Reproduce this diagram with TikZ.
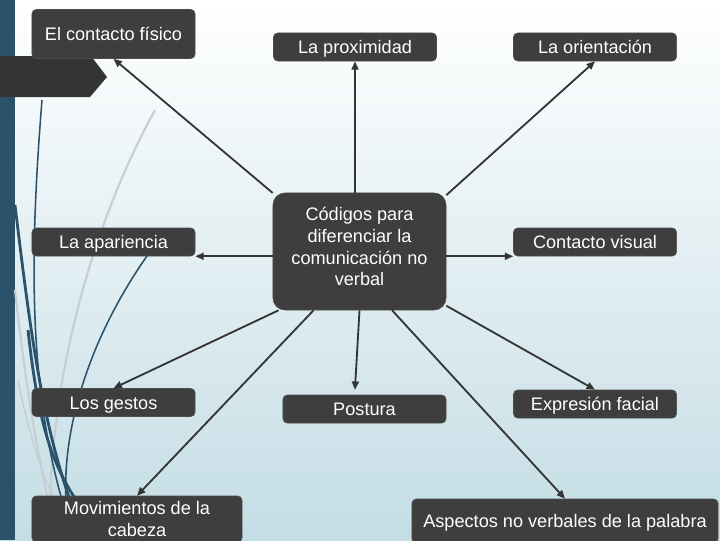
\documentclass[tikz,border=0pt]{standalone}
\usepackage{fontspec}
\setmainfont{Liberation Sans}
\usetikzlibrary{arrows.meta}
\definecolor{boxgray}{RGB}{62,62,62}
\definecolor{tabgray}{RGB}{52,52,52}
\definecolor{barblue}{RGB}{42,82,107}
\definecolor{bgmid}{RGB}{229,239,243}
\definecolor{bgblue}{RGB}{196,221,229}
\definecolor{decgray}{RGB}{196,206,211}

\begin{document}
\begin{tikzpicture}[x=0.025cm,y=-0.025cm,
    caja/.style={fill=boxgray,draw=gray!60!black,line width=0.4pt,rounded corners=3pt,
        text=white,inner sep=0pt,minimum width=4.075cm,minimum height=0.7cm,
        font=\fontsize{12.9}{15.4}\selectfont,align=center},
    linea/.style={caja,text height=9.4pt,text depth=0pt},
    flecha/.style={-{Triangle[length=6pt,width=5pt]},line width=1.3pt,draw=tabgray}]
    \useasboundingbox (0,0) rectangle (720,540);
    \shade[top color=white,middle color=bgmid,bottom color=bgblue] (0,0) rectangle (720,540);
    \fill[barblue] (0,0) rectangle (15,540);
    \fill[tabgray] (0,56) -- (91,56) -- (107,77) -- (90,97) -- (0,97) -- cycle;
    % curvas de adorno
    \draw[decgray,line width=1.5pt] (155,110) .. controls (100,210) and (55,350) .. (50,500);
    \draw[decgray,line width=1.5pt] (15,290) .. controls (25,380) and (35,440) .. (48,500);
    \draw[decgray,line width=1pt] (18,380) .. controls (28,430) and (40,470) .. (55,500);
    \draw[barblue,line width=1.1pt] (42,100) .. controls (30,250) and (28,380) .. (62,500);
    \draw[barblue,line width=2pt] (15,205) .. controls (30,330) and (42,420) .. (70,500);
    \draw[barblue,line width=2pt] (28,330) .. controls (38,420) and (50,460) .. (76,500);
    \draw[barblue,line width=1.1pt] (147,256) .. controls (95,330) and (62,420) .. (66,500);
    % nodos
    \node[caja,minimum width=4.325cm,minimum height=2.925cm,rounded corners=8.5pt,text depth=7pt] (codigos) at (359.5,251.5)
        {Códigos para\\diferenciar la\\comunicación no\\verbal};
    \node[linea,minimum height=1.225cm] (fisico) at (113.5,34) {El contacto físico};
    \node[linea] (proximidad) at (355,47) {La proximidad};
    \node[linea] (orientacion) at (595,47) {La orientación};
    \node[linea] (apariencia) at (113.5,242) {La apariencia};
    \node[linea] (visual) at (595,242) {Contacto visual};
    \node[linea] (gestos) at (113.5,402.5) {Los gestos};
    \node[linea] (postura) at (364.5,409) {Postura};
    \node[linea] (expresion) at (595,404) {Expresión facial};
    \node[caja,minimum width=5.25cm,minimum height=1.15cm] (cabeza) at (137,519) {Movimientos de la\\cabeza};
    \node[linea,minimum width=7.65cm,minimum height=1.1cm] (palabra) at (565,521) {Aspectos no verbales de la palabra};
    % flechas
    \draw[flecha] (codigos.146) -- (fisico.south);
    \draw[flecha] (proximidad.south |- codigos.north) -- (proximidad.south);
    \draw[flecha] (codigos.33) -- (orientacion.south);
    \draw[flecha] (codigos.west |- apariencia.south east) -- (apariencia.south east);
    \draw[flecha] (codigos.east |- visual.south west) -- (visual.south west);
    \draw[flecha] (codigos.216) -- (gestos.north);
    \draw[flecha] (codigos.232) -- (cabeza.north);
    \draw[flecha] (codigos.south) -- ([xshift=-0.24cm,yshift=0.12cm]postura.north);
    \draw[flecha] (codigos.328) -- (expresion.north);
    \draw[flecha] (codigos.299) -- (palabra.north);
\end{tikzpicture}
\end{document}
